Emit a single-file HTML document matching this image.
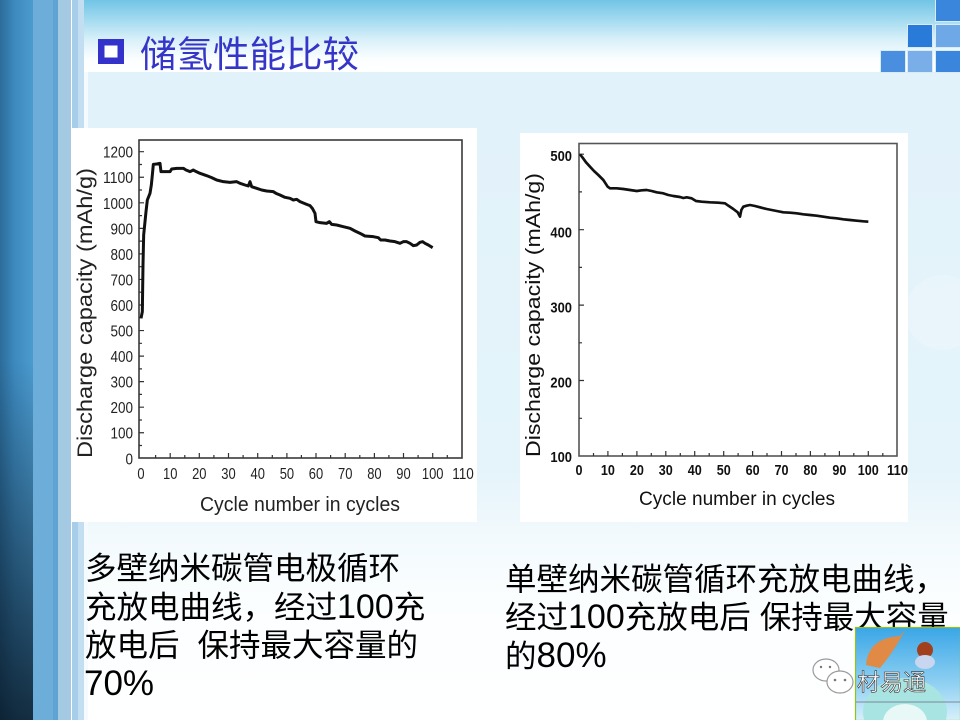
<!DOCTYPE html>
<html><head><meta charset="utf-8"><style>
html,body{margin:0;padding:0}
body{width:960px;height:720px;position:relative;overflow:hidden;background:#fff;font-family:"Liberation Sans","Noto Sans CJK SC",sans-serif}
.a{position:absolute}
</style></head><body>
<!-- backgrounds -->
<div class="a" style="left:84px;top:0;width:876px;height:72px;background:linear-gradient(to bottom,#72c4e6 0%,#a4dbf0 28%,#d9f0f9 55%,#fbfeff 82%,#ffffff 100%)"></div>
<div class="a" style="left:84px;top:72px;width:876px;height:648px;background:linear-gradient(to bottom,#e2f2fa 0px,#e5f4fb 400px,#f3fafd 470px,#fbfeff 530px,#ffffff 648px)"></div>
<div class="a" style="left:0;top:0;width:33px;height:720px;background:linear-gradient(to bottom,rgba(5,15,25,0) 0%,rgba(5,15,25,0) 50%,rgba(5,15,25,0.78) 100%),linear-gradient(to right,#2c6c9a 0%,#3d8abf 45%,#4c9bcf 100%)"></div>
<div class="a" style="left:33px;top:0;width:20px;height:720px;background:#6cadd9"></div>
<div class="a" style="left:53px;top:0;width:5px;height:720px;background:#5ea3d3"></div>
<div class="a" style="left:58px;top:0;width:13px;height:720px;background:#a3c9e3"></div>
<div class="a" style="left:71px;top:0;width:1px;height:720px;background:#ffffff"></div>
<div class="a" style="left:72px;top:0;width:6px;height:720px;background:#a6cde9"></div>
<div class="a" style="left:78px;top:0;width:6px;height:720px;background:#c3def0"></div>
<div class="a" style="left:84px;top:72px;width:4px;height:648px;background:#f4fafd"></div>
<!-- faint circle decorations -->
<div class="a" style="left:905px;top:275px;width:75px;height:75px;border-radius:50%;background:rgba(255,255,255,0.2)"></div>
<!-- top-right squares -->
<div class="a" style="left:935px;top:0;width:24px;height:21px;background:#3a86dc;border:1px solid #d8ecf8;border-top:none"></div>
<div class="a" style="left:907px;top:24px;width:24px;height:22px;background:#2a7ada;border:1px solid #d8ecf8"></div>
<div class="a" style="left:935px;top:24px;width:24px;height:22px;background:#6ea8e6;border:1px solid #d8ecf8"></div>
<div class="a" style="left:880px;top:50px;width:24px;height:21px;background:#4a8ee0;border:1px solid #d8ecf8"></div>
<div class="a" style="left:907px;top:50px;width:24px;height:21px;background:#7aaee8;border:1px solid #d8ecf8"></div>
<div class="a" style="left:935px;top:50px;width:24px;height:21px;background:#3a86dc;border:1px solid #d8ecf8"></div>
<!-- chart boxes -->
<div class="a" style="left:71px;top:128px;width:406px;height:394px;background:#ffffff"></div>
<div class="a" style="left:520px;top:133px;width:388px;height:389px;background:#ffffff"></div>

<svg class="a" style="left:0;top:0" width="960" height="720" viewBox="0 0 960 720" xmlns="http://www.w3.org/2000/svg">
<defs>
<linearGradient id="sky" x1="0" y1="0" x2="0" y2="1">
<stop offset="0" stop-color="#3aa6e6"/><stop offset="0.6" stop-color="#8fd0f2"/><stop offset="1" stop-color="#d8f0fb"/>
</linearGradient>
</defs>
<!-- title -->
<rect x="101.25" y="42.25" width="19.5" height="18.5" fill="#fff" stroke="#3333cc" stroke-width="6.5"/>
<text x="140" y="67" font-size="36.5" fill="#3535c8" font-family="Liberation Sans, Noto Sans CJK SC, sans-serif">储氢性能比较</text>

<!-- LEFT CHART -->
<g font-family="Liberation Sans, sans-serif" fill="#222">
<rect x="139" y="140" width="323" height="318" fill="none" stroke="#3a3a3a" stroke-width="1.6"/>
<g stroke="#333" stroke-width="1.2">
<path d="M139 432.75h5M139 407.2h5M139 381.65h5M139 356.1h5M139 330.55h5M139 305h5M139 279.45h5M139 253.9h5M139 228.35h5M139 202.8h5M139 177.25h5M139 151.7h5"/>
<path d="M139 445.5h3M139 420h3M139 394.4h3M139 368.9h3M139 343.3h3M139 317.8h3M139 292.2h3M139 266.7h3M139 241.1h3M139 215.6h3M139 190h3M139 164.5h3"/>
<path d="M170.2 458v-5M199.3 458v-5M228.5 458v-5M257.7 458v-5M286.9 458v-5M316 458v-5M345.2 458v-5M374.4 458v-5M403.5 458v-5M432.7 458v-5"/>
<path d="M155.6 458v-3M184.8 458v-3M213.9 458v-3M243.1 458v-3M272.3 458v-3M301.4 458v-3M330.6 458v-3M359.8 458v-3M388.9 458v-3M418.1 458v-3M447.3 458v-3"/>
</g>
<g font-size="16" text-anchor="end">
<text x="133" y="464.3" textLength="7.5" lengthAdjust="spacingAndGlyphs">0</text>
<text x="133" y="438.7" textLength="22.5" lengthAdjust="spacingAndGlyphs">100</text>
<text x="133" y="413.2" textLength="22.5" lengthAdjust="spacingAndGlyphs">200</text>
<text x="133" y="387.6" textLength="22.5" lengthAdjust="spacingAndGlyphs">300</text>
<text x="133" y="362.1" textLength="22.5" lengthAdjust="spacingAndGlyphs">400</text>
<text x="133" y="336.5" textLength="22.5" lengthAdjust="spacingAndGlyphs">500</text>
<text x="133" y="311" textLength="22.5" lengthAdjust="spacingAndGlyphs">600</text>
<text x="133" y="285.4" textLength="22.5" lengthAdjust="spacingAndGlyphs">700</text>
<text x="133" y="259.9" textLength="22.5" lengthAdjust="spacingAndGlyphs">800</text>
<text x="133" y="234.3" textLength="22.5" lengthAdjust="spacingAndGlyphs">900</text>
<text x="133" y="208.8" textLength="30" lengthAdjust="spacingAndGlyphs">1000</text>
<text x="133" y="183.2" textLength="30" lengthAdjust="spacingAndGlyphs">1100</text>
<text x="133" y="157.7" textLength="30" lengthAdjust="spacingAndGlyphs">1200</text>
</g>
<g font-size="16" text-anchor="middle">
<text x="141" y="479" textLength="7.2" lengthAdjust="spacingAndGlyphs">0</text>
<text x="170.2" y="479" textLength="14.4" lengthAdjust="spacingAndGlyphs">10</text>
<text x="199.3" y="479" textLength="14.4" lengthAdjust="spacingAndGlyphs">20</text>
<text x="228.5" y="479" textLength="14.4" lengthAdjust="spacingAndGlyphs">30</text>
<text x="257.7" y="479" textLength="14.4" lengthAdjust="spacingAndGlyphs">40</text>
<text x="286.9" y="479" textLength="14.4" lengthAdjust="spacingAndGlyphs">50</text>
<text x="316" y="479" textLength="14.4" lengthAdjust="spacingAndGlyphs">60</text>
<text x="345.2" y="479" textLength="14.4" lengthAdjust="spacingAndGlyphs">70</text>
<text x="374.4" y="479" textLength="14.4" lengthAdjust="spacingAndGlyphs">80</text>
<text x="403.5" y="479" textLength="14.4" lengthAdjust="spacingAndGlyphs">90</text>
<text x="432.7" y="479" textLength="21.6" lengthAdjust="spacingAndGlyphs">100</text>
<text x="463" y="479" textLength="21.6" lengthAdjust="spacingAndGlyphs">110</text>
</g>
<text x="200" y="511" font-size="20" textLength="200" lengthAdjust="spacingAndGlyphs">Cycle number in cycles</text>
<text transform="translate(92,313) rotate(-90)" font-size="21" text-anchor="middle" textLength="290" lengthAdjust="spacingAndGlyphs">Discharge capacity (mAh/g)</text>
<g transform="translate(60,125) scale(0.33333)">
<polyline fill="none" stroke="#111" stroke-width="9" stroke-linejoin="round" points="243,580 247,560 249,420 251,330 254,300 258,260 262,225 266,215 270,205 274,180 277,150 280,118 290,117 300,115 303,140 310,140 330,140 335,132 350,130 370,130 378,135 390,140 400,135 405,138 420,145 440,152 455,158 470,165 490,170 510,172 530,170 540,175 555,180 565,183 570,170 575,185 590,190 605,195 620,198 640,200 648,205 660,210 675,217 690,220 700,225 710,223 720,230 740,238 750,242 757,250 765,265 768,290 780,293 800,295 808,290 815,298 830,300 850,305 870,310 885,318 900,325 915,333 940,335 955,338 962,345 975,345 990,348 1005,350 1020,355 1030,350 1040,350 1050,355 1060,362 1070,360 1080,352 1088,350 1095,355 1105,360 1118,368"/>
</g>
</g>

<!-- RIGHT CHART -->
<g font-family="Liberation Sans, sans-serif" fill="#111">
<rect x="579" y="143.5" width="318" height="312.5" fill="none" stroke="#555" stroke-width="1.6"/>
<g stroke="#333" stroke-width="1.2">
<path d="M579 380.5h5M579 305.1h5M579 229.7h5M579 154.2h5"/>
<path d="M579 418.3h3M579 342.8h3M579 267.4h3M579 191.9h3"/>
<path d="M607.9 456v-5M636.9 456v-5M665.8 456v-5M694.7 456v-5M723.7 456v-5M752.6 456v-5M781.5 456v-5M810.4 456v-5M839.4 456v-5M868.3 456v-5"/>
<path d="M593.5 456v-3M622.4 456v-3M651.3 456v-3M680.3 456v-3M709.2 456v-3M738.1 456v-3M767 456v-3M796 456v-3M824.9 456v-3M853.8 456v-3M882.8 456v-3"/>
</g>
<g font-size="15" font-weight="bold" text-anchor="end">
<text x="572" y="462" textLength="21.6" lengthAdjust="spacingAndGlyphs">100</text>
<text x="572" y="387.5" textLength="21.6" lengthAdjust="spacingAndGlyphs">200</text>
<text x="572" y="312.5" textLength="21.6" lengthAdjust="spacingAndGlyphs">300</text>
<text x="572" y="237.5" textLength="21.6" lengthAdjust="spacingAndGlyphs">400</text>
<text x="572" y="161" textLength="21.6" lengthAdjust="spacingAndGlyphs">500</text>
</g>
<g font-size="15" font-weight="bold" text-anchor="middle">
<text x="579" y="475" textLength="7" lengthAdjust="spacingAndGlyphs">0</text>
<text x="607.9" y="475" textLength="14" lengthAdjust="spacingAndGlyphs">10</text>
<text x="636.9" y="475" textLength="14" lengthAdjust="spacingAndGlyphs">20</text>
<text x="665.8" y="475" textLength="14" lengthAdjust="spacingAndGlyphs">30</text>
<text x="694.7" y="475" textLength="14" lengthAdjust="spacingAndGlyphs">40</text>
<text x="723.7" y="475" textLength="14" lengthAdjust="spacingAndGlyphs">50</text>
<text x="752.6" y="475" textLength="14" lengthAdjust="spacingAndGlyphs">60</text>
<text x="781.5" y="475" textLength="14" lengthAdjust="spacingAndGlyphs">70</text>
<text x="810.4" y="475" textLength="14" lengthAdjust="spacingAndGlyphs">80</text>
<text x="839.4" y="475" textLength="14" lengthAdjust="spacingAndGlyphs">90</text>
<text x="868.3" y="475" textLength="21" lengthAdjust="spacingAndGlyphs">100</text>
<text x="897.5" y="475" textLength="21" lengthAdjust="spacingAndGlyphs">110</text>
</g>
<text x="639" y="505" font-size="19.5" textLength="196" lengthAdjust="spacingAndGlyphs">Cycle number in cycles</text>
<text transform="translate(540,315) rotate(-90)" font-size="20.5" text-anchor="middle" textLength="284" lengthAdjust="spacingAndGlyphs">Discharge capacity (mAh/g)</text>
<g transform="translate(510,125) scale(0.33333)">
<polyline fill="none" stroke="#111" stroke-width="8" stroke-linejoin="round" points="210,88 218,98 228,112 240,125 252,138 265,150 280,165 293,185 300,190 320,190 340,192 360,195 380,198 395,196 410,195 425,198 440,202 460,205 475,210 490,213 510,216 520,219 530,217 545,220 558,228 575,230 600,232 625,233 645,235 655,242 670,252 683,262 690,275 694,255 700,245 710,242 720,240 735,243 750,247 770,252 800,258 820,262 840,263 860,265 880,268 900,270 920,272 940,275 960,278 980,280 1000,283 1020,285 1040,287 1060,289 1075,290"/>
</g>
</g>

<!-- Chinese descriptive text -->
<g font-family="Liberation Sans, Noto Sans CJK SC, sans-serif" font-size="31.5" fill="#000">
<text x="85" y="579">多壁纳米碳管电极循环</text>
<text x="85" y="618">充放电曲线，经过<tspan font-size="34">100</tspan>充</text>
<text x="85" y="656">放电后<tspan dx="18">保持最大容量的</tspan></text>
<text x="84" y="695"><tspan font-size="35">70%</tspan></text>
<text x="505" y="590">单壁纳米碳管循环充放电曲线，</text>
<text x="505" y="628">经过<tspan font-size="34">100</tspan>充放电后<tspan dx="9">保持最大容量</tspan></text>
<text x="505" y="667">的<tspan font-size="35">80%</tspan></text>
</g>

<!-- watermark -->
<g fill="none" stroke="#9a9a9a" stroke-width="1.2">
<ellipse cx="826" cy="670" rx="13" ry="11" fill="#fff"/>
<ellipse cx="840" cy="682" rx="13" ry="11" fill="#fff"/>
</g>
<g fill="#777"><circle cx="835" cy="680" r="1.3"/><circle cx="845" cy="680" r="1.3"/><circle cx="821" cy="667" r="1.2"/><circle cx="830" cy="667" r="1.2"/></g>
<rect x="855.5" y="627.5" width="105" height="93" fill="url(#sky)" stroke="#8dc21f" stroke-width="1.2"/>
<ellipse cx="905" cy="712" rx="42" ry="34" fill="#a8e4e2"/>
<ellipse cx="905" cy="722" rx="22" ry="18" fill="#e8f8f6"/>
<path d="M866 665 Q868 638 900 636 L905 630 Q895 650 880 668 Z" fill="#e08a45"/>
<circle cx="925" cy="650" r="8" fill="#a2401e"/>
<ellipse cx="925" cy="662" rx="10" ry="7" fill="#c8d6f0"/>
<path d="M856 702H960" stroke="#7a8a9a" stroke-width="1"/>
<text x="857" y="690" font-size="23" fill="#fff" stroke="#333" stroke-width="0.6" font-family="Liberation Sans, Noto Sans CJK SC, sans-serif">材易通</text>
</svg>
</body></html>
